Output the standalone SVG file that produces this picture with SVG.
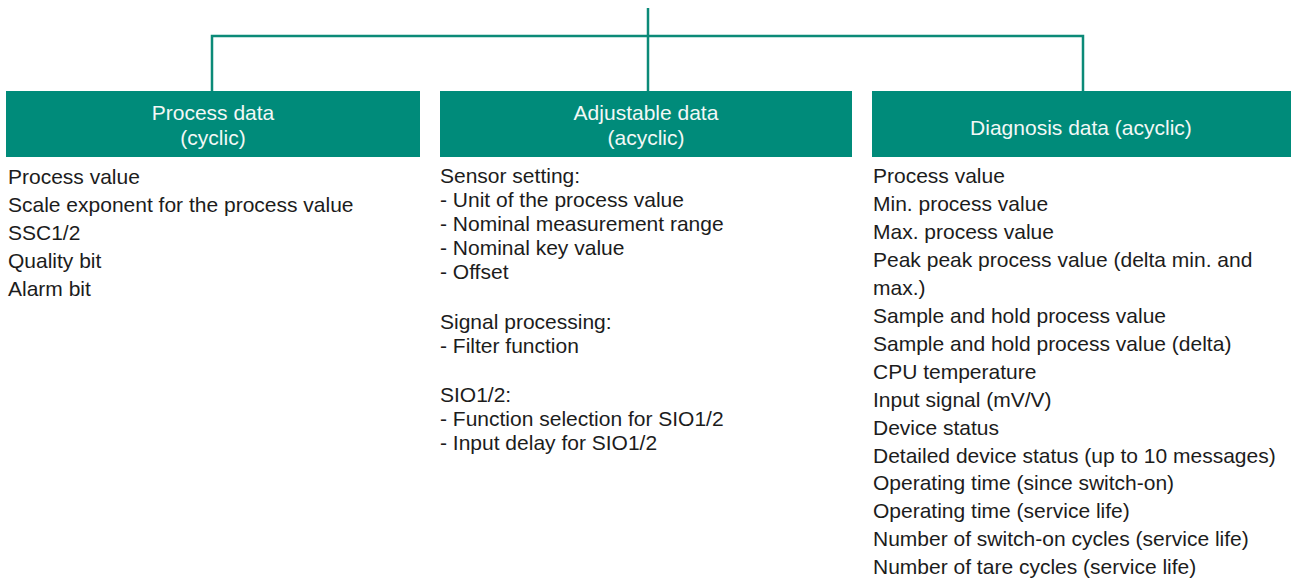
<svg xmlns="http://www.w3.org/2000/svg" width="1293" height="581" viewBox="0 0 1293 581">
  <style>
    .box { fill: #008b7a; }
    .head { font-family: "Liberation Sans", Arial, sans-serif; font-size: 21px; fill: #f2f8f6; text-anchor: middle; }
    .body { font-family: "Liberation Sans", Arial, sans-serif; font-size: 21px; fill: #1c1c1c; }
    .conn { fill: none; stroke: #0b8a78; stroke-width: 2.5; }
  </style>
  <rect width="1293" height="581" fill="#ffffff"/>

  <!-- connectors: trunk and three branches -->
  <g id="connectors">
    <path class="conn" d="M648 8 V91"/>
    <path class="conn" d="M212 91 V36 H1083 V91"/>
  </g>

  <!-- Process data column -->
  <g id="process-data">
    <rect class="box" x="6" y="91" width="414" height="66"/>
    <text class="head" x="213" y="120">Process data</text>
    <text class="head" x="213" y="145">(cyclic)</text>
    <g class="body">
      <text x="8" y="184">Process value</text>
      <text x="8" y="212">Scale exponent for the process value</text>
      <text x="8" y="240">SSC1/2</text>
      <text x="8" y="268">Quality bit</text>
      <text x="8" y="296">Alarm bit</text>
    </g>
  </g>

  <!-- Adjustable data column -->
  <g id="adjustable-data">
    <rect class="box" x="440" y="91" width="412" height="66"/>
    <text class="head" x="646" y="120">Adjustable data</text>
    <text class="head" x="646" y="145">(acyclic)</text>
    <g class="body">
      <text x="440" y="183">Sensor setting:</text>
      <text x="440" y="207">- Unit of the process value</text>
      <text x="440" y="231">- Nominal measurement range</text>
      <text x="440" y="255">- Nominal key value</text>
      <text x="440" y="279">- Offset</text>
      <text x="440" y="329">Signal processing:</text>
      <text x="440" y="353">- Filter function</text>
      <text x="440" y="402">SIO1/2:</text>
      <text x="440" y="426">- Function selection for SIO1/2</text>
      <text x="440" y="450">- Input delay for SIO1/2</text>
    </g>
  </g>

  <!-- Diagnosis data column -->
  <g id="diagnosis-data">
    <rect class="box" x="872" y="91" width="419" height="66"/>
    <text class="head" x="1081" y="135">Diagnosis data (acyclic)</text>
    <g class="body">
      <text x="873" y="183">Process value</text>
      <text x="873" y="211">Min. process value</text>
      <text x="873" y="239">Max. process value</text>
      <text x="873" y="267">Peak peak process value (delta min. and</text>
      <text x="873" y="295">max.)</text>
      <text x="873" y="323">Sample and hold process value</text>
      <text x="873" y="351">Sample and hold process value (delta)</text>
      <text x="873" y="379">CPU temperature</text>
      <text x="873" y="407">Input signal (mV/V)</text>
      <text x="873" y="435">Device status</text>
      <text x="873" y="463">Detailed device status (up to 10 messages)</text>
      <text x="873" y="490">Operating time (since switch-on)</text>
      <text x="873" y="518">Operating time (service life)</text>
      <text x="873" y="546">Number of switch-on cycles (service life)</text>
      <text x="873" y="574">Number of tare cycles (service life)</text>
    </g>
  </g>
</svg>
